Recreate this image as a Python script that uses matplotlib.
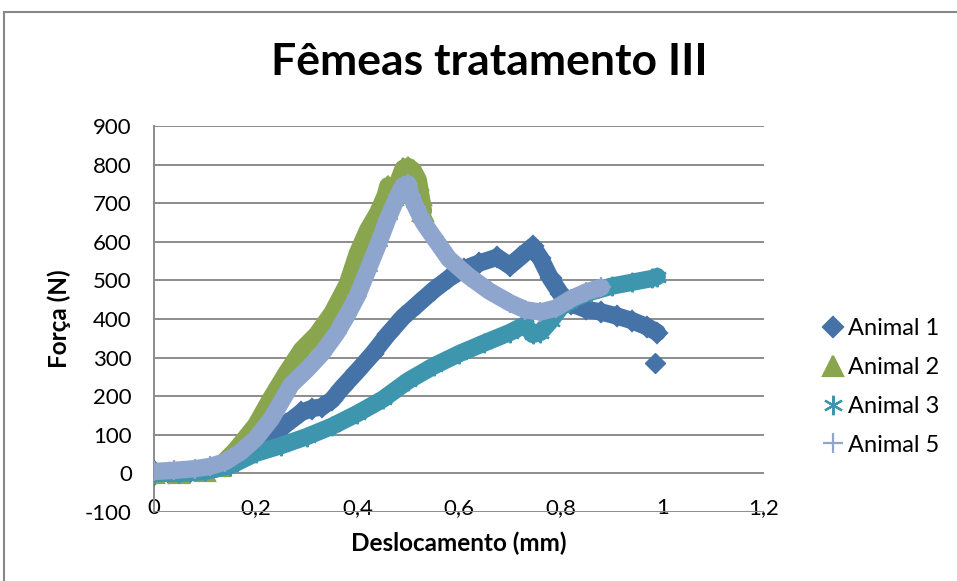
import matplotlib
matplotlib.use("Agg")
import matplotlib.pyplot as plt
from matplotlib.patches import Rectangle

plt.rcParams['font.family'] = ['Lato', 'DejaVu Sans']

# Animal 1
x1 = [0, 0, 0.03, 0.07, 0.11, 0.14, 0.17, 0.2, 0.23, 0.26, 0.29, 0.31, 0.33, 0.35,
      0.37, 0.4, 0.43, 0.46, 0.49, 0.52, 0.55, 0.58, 0.61, 0.64, 0.675, 0.7, 0.72,
      0.745, 0.76, 0.78, 0.8, 0.82, 0.85, 0.88, 0.91, 0.94, 0.97, 0.99]
y1 = [-5, 5, 2, 4, 8, 18, 38, 62, 95, 128, 158, 168, 172, 190, 222, 265, 310, 360,
      405, 440, 475, 505, 530, 545, 560, 538, 560, 588, 558, 505, 465, 440, 425, 418,
      408, 396, 380, 365]
# ponto isolado do Animal 1
x1_iso = [0.985]
y1_iso = [287]

# Animal 2
x2 = [0, 0.05, 0.1, 0.13, 0.16, 0.2, 0.23, 0.26, 0.29, 0.32, 0.35, 0.38, 0.4, 0.42,
      0.44, 0.455, 0.46, 0.47, 0.48, 0.49, 0.5, 0.51, 0.52, 0.525, 0.53]
y2 = [2, 2, 6, 20, 60, 125, 195, 260, 320, 360, 415, 490, 570, 630, 675, 720, 745,
      720, 755, 790, 795, 785, 760, 720, 680]

# Animal 3
x3 = [0, 0.05, 0.1, 0.15, 0.2, 0.25, 0.3, 0.35, 0.4, 0.45, 0.5, 0.55, 0.6, 0.65, 0.7,
      0.73, 0.745, 0.76, 0.78, 0.8, 0.83, 0.86, 0.9, 0.94, 0.98, 0.99]
y3 = [0, 0, 5, 20, 52, 72, 95, 122, 155, 192, 240, 278, 310, 338, 365, 385, 360, 365,
      395, 430, 455, 470, 485, 495, 505, 510]

# Animal 5
x5 = [0, 0.04, 0.08, 0.11, 0.14, 0.17, 0.2, 0.23, 0.27, 0.3, 0.33, 0.36, 0.38, 0.4,
      0.42, 0.44, 0.46, 0.48, 0.49, 0.5, 0.505, 0.515, 0.53, 0.55, 0.58, 0.62, 0.66,
      0.7, 0.73, 0.76, 0.79, 0.82, 0.85, 0.88]
y5 = [5, 8, 12, 18, 30, 55, 90, 140, 230, 268, 310, 365, 410, 460, 525, 590, 660,
      720, 745, 750, 720, 690, 650, 612, 556, 510, 472, 442, 424, 418, 428, 452, 470,
      482]

xticks = [0, 0.2, 0.4, 0.6, 0.8, 1.0, 1.2]
xlabels = ['0', '0,2', '0,4', '0,6', '0,8', '1', '1,2']
yticks = list(range(-100, 1000, 100))
ylabels = [str(v) for v in yticks]

c1 = '#4572A7'
c2 = '#89A54E'
c3 = '#3D96AE'
c5 = '#8EA6CD'

fig = plt.figure(figsize=(9.57, 5.81), dpi=100)
ax = fig.add_axes([154 / 957, 1 - 512 / 581, 610 / 957, 386 / 581])

# moldura do gráfico
fig.patches.append(Rectangle((4 / 957, -0.05), 1.1, 1 - 12 / 581 + 0.05,
                             transform=fig.transFigure, fill=False,
                             edgecolor='#888888', lw=1.5))

series = [
    (x1, y1, c1, 'D', 10.5, 'Animal 1'),
    (x2, y2, c2, '^', 14, 'Animal 2'),
    (x3, y3, c3, (6, 2, 0), 14, 'Animal 3'),
    (x5, y5, c5, '+', 14, 'Animal 5'),
]
for i, (xs, ys, c, m, ms, nome) in enumerate(series):
    ax.plot(xs, ys, color=c, lw=12.5, solid_capstyle='round',
            solid_joinstyle='round', zorder=3 + i)
    ax.plot(xs, ys, ls='none', marker=m, ms=ms, color=c, mec=c, mew=1.6,
            label=nome, zorder=3 + i)
    if nome == 'Animal 1':
        ax.plot(x1_iso, y1_iso, ls='none', marker=m, ms=ms, color=c, zorder=3)

ax.set_xlim(0, 1.2)
ax.set_ylim(-100, 900)
ax.set_xticks(xticks)
ax.set_xticklabels(xlabels)
ax.set_yticks(yticks)
ax.set_yticklabels(ylabels)
ax.grid(axis='y', color='#8c8c8c', lw=1.4, zorder=1)
ax.set_axisbelow(True)
for s in ['top', 'right', 'bottom']:
    ax.spines[s].set_visible(False)
ax.spines['left'].set_color('#8c8c8c')
ax.spines['left'].set_linewidth(1.4)
ax.tick_params(axis='both', length=0, labelsize=16)
ax.tick_params(axis='x', pad=-10)
ax.tick_params(axis='y', pad=16)

ax.set_xlabel('Deslocamento (mm)', fontsize=17.5, fontweight='bold', labelpad=10)
ax.set_ylabel('Força (N)', fontsize=17.5, fontweight='bold', labelpad=10)
fig.text(489 / 957, 1 - 62 / 581, 'Fêmeas tratamento III', fontsize=32,
         fontweight='bold', ha='center', va='center')

ax.legend(loc='center left', bbox_to_anchor=(809 / 957, 1 - 387 / 581),
          bbox_transform=fig.transFigure, frameon=False, fontsize=17,
          handlelength=1.0, handletextpad=0.15, labelspacing=0.75, borderpad=0,
          markerscale=1.0)

fig.savefig('out.png', dpi=100)
